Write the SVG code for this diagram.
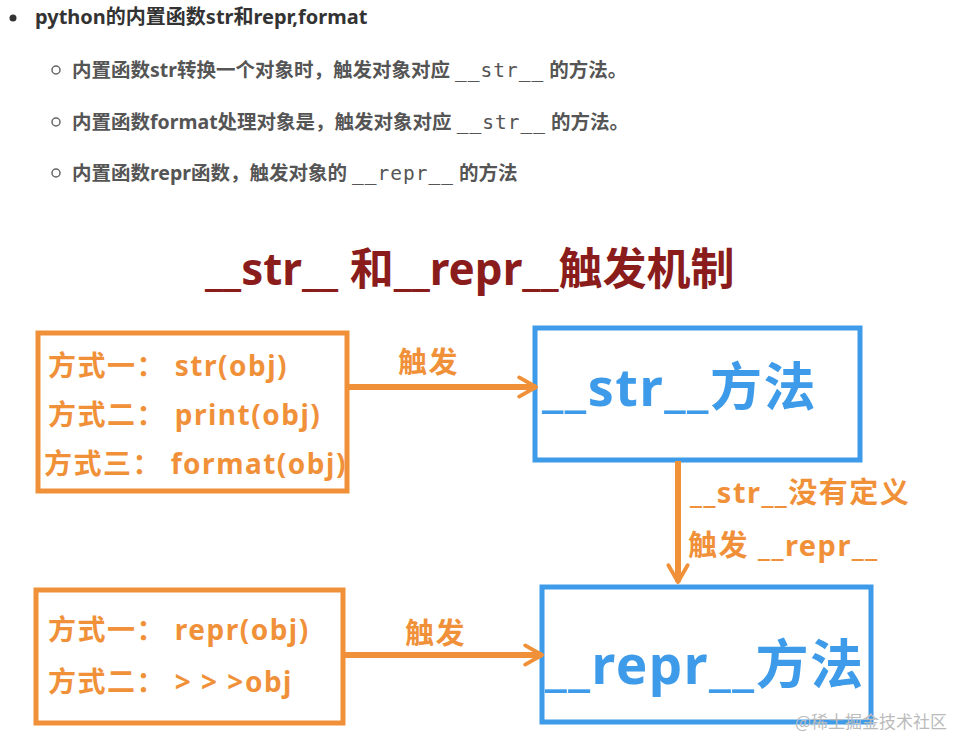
<svg xmlns="http://www.w3.org/2000/svg" width="976" height="754" viewBox="0 0 976 754">
<style>
.hdr{font-family:"Noto Sans","Noto Sans CJK SC",sans-serif;font-weight:bold;font-size:20px;fill:#333}
.sub{font-family:"Noto Sans","Noto Sans CJK SC",sans-serif;font-weight:bold;font-size:19.5px;fill:#555}
.mono{font-family:"DejaVu Sans Mono","Liberation Mono",monospace;font-weight:normal;letter-spacing:1px}
.title{font-family:"Noto Sans","Noto Sans CJK SC",sans-serif;font-weight:bold;font-size:44px;fill:#8A1C1C}
.otxt{font-family:"Noto Sans","Noto Sans CJK SC",sans-serif;font-weight:bold;font-size:28px;fill:#F0913A;letter-spacing:1.5px}
.lbl{font-family:"Noto Sans","Noto Sans CJK SC",sans-serif;font-weight:bold;font-size:29px;fill:#F0913A;letter-spacing:1.5px}
.btxt{font-family:"Noto Sans","Noto Sans CJK SC",sans-serif;font-weight:bold;font-size:52px;fill:#3D9BE9;letter-spacing:1.5px}
.obox{fill:none;stroke:#F0913A;stroke-width:5}
.bbox{fill:none;stroke:#3D9BE9;stroke-width:5}
.conn{fill:none;stroke:#F0913A;stroke-width:6}
.wm{font-family:"Noto Sans CJK SC",sans-serif;font-size:17px;fill:#bbb}
</style>
<defs>
<marker id="ah" viewBox="0 0 10 10" refX="8" refY="5" markerWidth="4" markerHeight="4" orient="auto" markerUnits="strokeWidth">
<path d="M1,1 L8,5 L1,9" fill="none" stroke="#F0913A" stroke-width="1.6" stroke-linecap="round" stroke-linejoin="round"/>
</marker>
</defs>
<rect width="976" height="754" fill="#fff"/>
<g id="notes">
<circle cx="13" cy="18" r="3.5" fill="#333"/>
<text class="hdr" x="35" y="24">python的内置函数str和repr,format</text>
<circle cx="56" cy="70" r="4" fill="none" stroke="#666" stroke-width="1.5"/>
<text class="sub" x="72" y="77">内置函数str转换一个对象时，触发对象对应 <tspan class="mono">__str__</tspan> 的方法。</text>
<circle cx="56" cy="122" r="4" fill="none" stroke="#666" stroke-width="1.5"/>
<text class="sub" x="72" y="129">内置函数format处理对象是，触发对象对应 <tspan class="mono">__str__</tspan> 的方法。</text>
<circle cx="56" cy="173" r="4" fill="none" stroke="#666" stroke-width="1.5"/>
<text class="sub" x="72" y="180">内置函数repr函数，触发对象的 <tspan class="mono">__repr__</tspan> 的方法</text>
</g>
<g id="title">
<text class="title" x="205" y="285">__str__ 和__repr__触发机制</text>
</g>
<g id="ways-str">
<rect class="obox" x="38" y="333" width="309" height="158"/>
<text class="otxt" x="48" y="376">方式一： str(obj)</text>
<text class="otxt" x="48" y="425">方式二： print(obj)</text>
<text class="otxt" x="44" y="474">方式三： format(obj)</text>
</g>
<g id="str-method">
<rect class="bbox" x="535" y="328" width="325" height="132"/>
<text class="btxt" x="542" y="406">__str__方法</text>
</g>
<g id="ways-repr">
<rect class="obox" x="36" y="590" width="307" height="133"/>
<text class="otxt" x="48" y="640">方式一： repr(obj)</text>
<text class="otxt" x="48" y="692">方式二： &gt; &gt; &gt;obj</text>
</g>
<g id="repr-method">
<rect class="bbox" x="542" y="587" width="329" height="135"/>
<text class="btxt" x="545" y="684" style="font-size:53px">__repr__方法</text>
</g>
<g id="connectors">
<line class="conn" x1="347" y1="387" x2="536" y2="387" marker-end="url(#ah)"/>
<text class="lbl" x="398" y="373">触发</text>
<line class="conn" x1="678" y1="461" x2="678" y2="582" marker-end="url(#ah)"/>
<text class="lbl" x="690" y="503">__str__没有定义</text>
<text class="lbl" x="688" y="556">触发 __repr__</text>
<line class="conn" x1="343" y1="655" x2="542" y2="655" marker-end="url(#ah)"/>
<text class="lbl" x="405" y="644">触发</text>
</g>
<text class="wm" x="795" y="728">@稀土掘金技术社区</text>
</svg>
